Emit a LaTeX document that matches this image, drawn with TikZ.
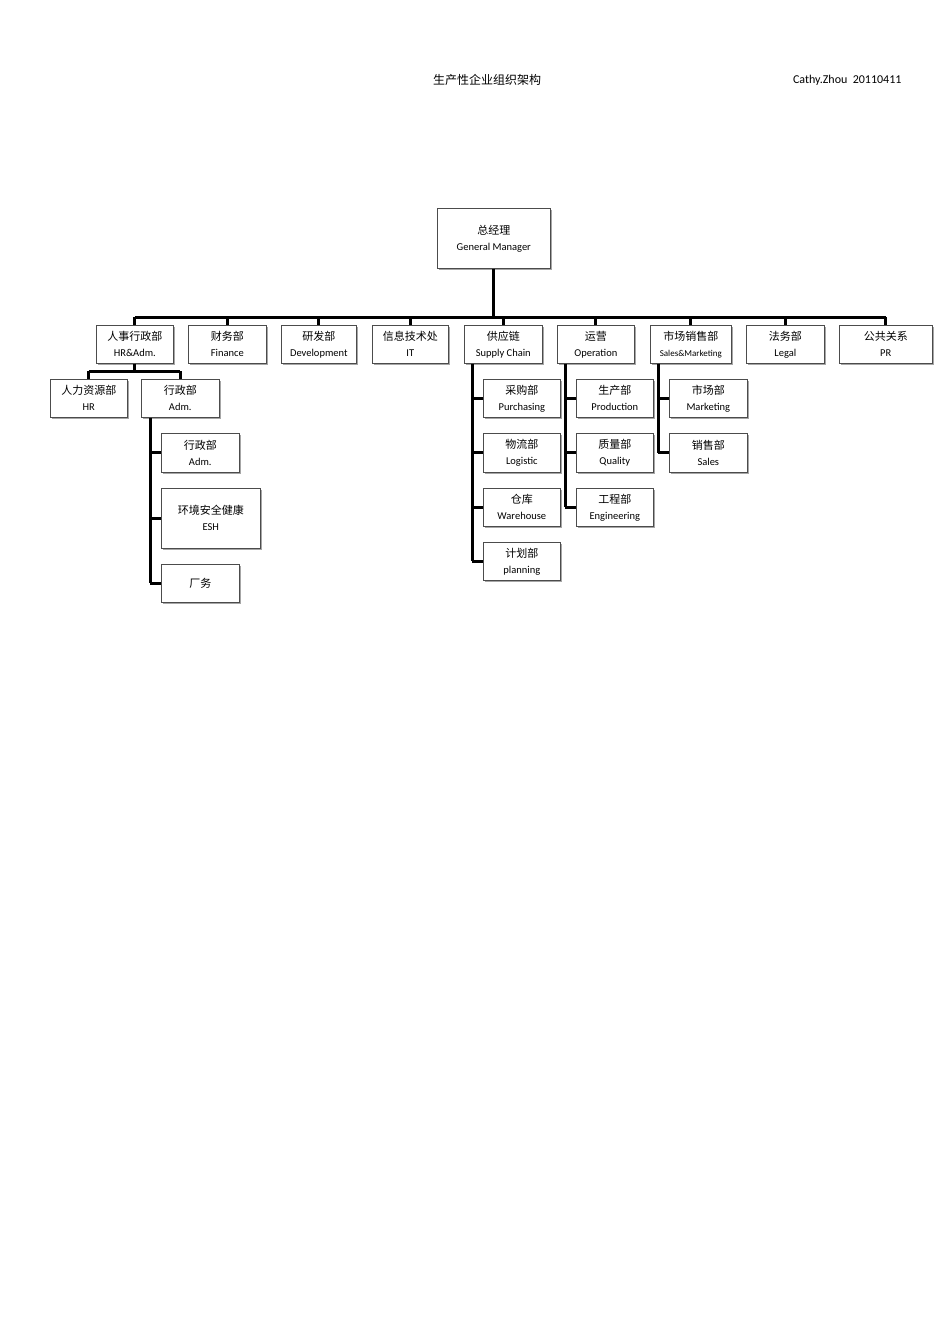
\documentclass[tikz,border=0pt]{standalone}
\usepackage{fontspec}
\setmainfont{Carlito}
\newfontfamily\cjk{Noto Sans CJK SC}
\usetikzlibrary{shadows}
\begin{document}
\begin{tikzpicture}[x=1pt,y=-1pt,
  box/.style={draw=black!70,line width=0.6pt,fill=white,inner sep=0pt,
    drop shadow={shadow xshift=1.5pt,shadow yshift=-1.5pt,fill=black!35,opacity=1}},
  link/.style={line width=3pt}]
\useasboundingbox (0,0) rectangle (950,1344);
\newcommand{\bx}[7]{\node[box,minimum width=#4,minimum height=#5,anchor=north west,align=center,font=\fontsize{11}{17}\selectfont] (#1) at (#2,#3) {{\cjk #6}\\[-1pt]{\fontsize{10.5}{12}\selectfont #7}};}
\node[font=\cjk\fontsize{12}{14}\selectfont] (title) at (487,80) {生产性企业组织架构};
\node[font=\fontsize{12}{14}\selectfont,anchor=east] (auth) at (905,80) {Cathy.Zhou\ \ 20110411};
\bx{gm}{437}{208}{113}{60}{总经理}{General Manager}
\bx{hra}{96}{325}{77}{38}{人事行政部}{HR\&Adm.}
\bx{fin}{188}{325}{78}{38}{财务部}{Finance}
\bx{dev}{281}{325}{75}{38}{研发部}{Development}
\bx{it}{372}{325}{76}{38}{信息技术处}{IT}
\bx{sc}{464}{325}{78}{38}{供应链}{Supply Chain}
\bx{op}{557}{325}{77}{38}{运营}{Operation}
\bx{sm}{650}{325}{81}{38}{市场销售部}{{\fontsize{9}{11}\selectfont Sales\&Marketing}}
\bx{leg}{746}{325}{78}{38}{法务部}{Legal}
\bx{pr}{839}{325}{93}{38}{公共关系}{PR}
\bx{hr}{50}{379}{77}{38}{人力资源部}{HR}
\bx{adm}{141}{379}{78}{38}{行政部}{Adm.}
\bx{adm2}{161}{433}{78}{39}{行政部}{Adm.}
\bx{esh}{161}{488}{99}{60}{环境安全健康}{ESH}
\node[box,minimum width=78,minimum height=38,anchor=north west,font=\cjk\fontsize{11}{13}\selectfont] (cw) at (161,564) {厂务};
\bx{pur}{483}{379}{77}{38}{采购部}{Purchasing}
\bx{log}{483}{433}{77}{39}{物流部}{Logistic}
\bx{wh}{483}{488}{77}{38}{仓库}{Warehouse}
\bx{pl}{483}{542}{77}{38}{计划部}{planning}
\bx{pro}{576}{379}{77}{38}{生产部}{Production}
\bx{qa}{576}{433}{77}{39}{质量部}{Quality}
\bx{eng}{576}{488}{77}{38}{工程部}{Engineering}
\bx{mk}{669}{379}{78}{38}{市场部}{Marketing}
\bx{sal}{669}{433}{78}{39}{销售部}{Sales}
% connectors
\coordinate (bar) at (0,317);
\draw[link] (gm.south) -- (gm.south |- bar);
\draw[link] (hra.north |- bar) -- (pr.north |- bar);
\foreach \n in {hra,fin,dev,it,sc,op,sm,leg,pr} \draw[link] (\n.north |- bar) -- (\n.north);
\coordinate (hb) at (0,371);
\draw[link] (hra.south) -- (hra.south |- hb);
\draw[link] (hr.north |- hb) -- (adm.north |- hb);
\draw[link] (hr.north |- hb) -- (hr.north);
\draw[link] (adm.north |- hb) -- (adm.north);
\foreach \p/\x/\kids/\last in {adm/150/{adm2,esh,cw}/cw, sc/472/{pur,log,wh,pl}/pl, op/565/{pro,qa,eng}/eng, sm/658/{mk,sal}/sal}{
  \coordinate (v) at (\x,0);
  \draw[link] (v |- \p.south) -- (v |- \last.west);
  \foreach \k in \kids \draw[link] (v |- \k.west) -- (\k.west);
}
\end{tikzpicture}
\end{document}
